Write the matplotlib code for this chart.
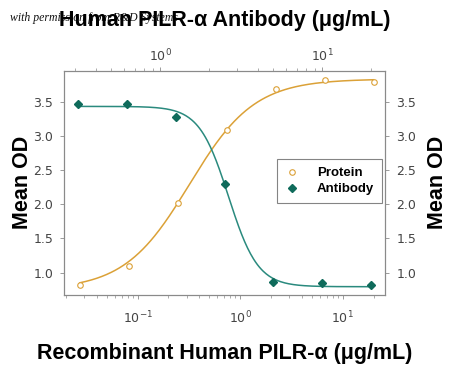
import numpy as np
import matplotlib
matplotlib.use("Agg")
import matplotlib.pyplot as plt
from matplotlib.ticker import LogLocator, NullFormatter
from matplotlib.lines import Line2D

# Data
protein_conc = [0.0274, 0.0823, 0.247, 0.741, 2.22, 6.67, 20.0]      # bottom axis, ug/mL
protein_od = [0.82, 1.10, 2.02, 3.08, 3.68, 3.81, 3.79]
antibody_conc = [0.3125, 0.625, 1.25, 2.5, 5.0, 10.0, 20.0]          # top axis, ug/mL
antibody_od = [3.46, 3.47, 3.27, 2.29, 0.87, 0.845, 0.825]

# 4PL fit parameters (bottom, top, EC50, slope)
protein_fit = (0.75, 3.83, 0.32, 1.37)
antibody_fit = (0.795, 3.43, 2.645, 4.8)

y_ticks = [1.0, 1.5, 2.0, 2.5, 3.0, 3.5]

def fourpl_inc(x, a, d, c, b):
    return a + (d - a) / (1.0 + (c / x) ** b)

def fourpl_dec(x, a, d, c, b):
    return a + (d - a) / (1.0 + (x / c) ** b)

c_prot = "#DBA137"
c_ab_line = "#2A8A7E"
c_ab_mark = "#0F6B5B"
tick_col = "#444444"
spine_col = "#8a8a8a"

fig = plt.figure(figsize=(4.5, 3.65), dpi=100)
ax = fig.add_axes([0.143, 0.192, 0.713, 0.614])
ax.set_xscale("log")
ax.set_xlim(0.0193, 26.0)
ax.set_ylim(0.675, 3.95)

xp = np.logspace(np.log10(protein_conc[0]), np.log10(protein_conc[-1]), 300)
ax.plot(xp, fourpl_inc(xp, *protein_fit), color=c_prot, lw=1.1, zorder=2)
ax.plot(protein_conc, protein_od, linestyle="none", marker="o", ms=4,
        mfc="white", mec=c_prot, mew=0.8, zorder=3)

ax2 = ax.twiny()
ax2.set_xscale("log")
ax2.set_xlim(0.2566, 24.5)
xa = np.logspace(np.log10(antibody_conc[0]), np.log10(antibody_conc[-1]), 300)
ax2.plot(xa, fourpl_dec(xa, *antibody_fit), color=c_ab_line, lw=1.1, zorder=2)
ax2.plot(antibody_conc, antibody_od, linestyle="none", marker="D", ms=4,
         color=c_ab_mark, zorder=3)

for a in (ax, ax2):
    for s in a.spines.values():
        s.set_color(spine_col)
        s.set_linewidth(0.8)
    a.xaxis.set_major_locator(LogLocator(base=10))
    a.xaxis.set_minor_locator(LogLocator(base=10, subs=np.arange(2, 10)))
    a.xaxis.set_minor_formatter(NullFormatter())

ax.set_yticks(y_ticks)
ax.set_yticklabels([f"{v:.1f}" for v in y_ticks])
ax.tick_params(axis="y", which="both", left=True, right=True, labelleft=True,
               labelright=True, direction="out", length=3, width=0.6,
               color=spine_col, labelsize=9, labelcolor=tick_col, pad=5)
ax.tick_params(axis="x", which="major", direction="out", length=3, width=0.6,
               color=spine_col, labelsize=9, labelcolor=tick_col, pad=8)
ax.tick_params(axis="x", which="minor", direction="out", length=2, width=0.5,
               color=spine_col)
ax2.tick_params(axis="x", which="major", direction="out", length=3, width=0.6,
                color=spine_col, labelsize=9, labelcolor=tick_col, pad=2)
ax2.tick_params(axis="x", which="minor", direction="out", length=2, width=0.5,
                color=spine_col)

lab_font = dict(family="Liberation Sans", fontweight="bold", fontsize=15.5)
ax.set_xlabel("Recombinant Human PILR-α (μg/mL)", labelpad=12, **lab_font)
fig.text(0.5, 0.945, "Human PILR-α Antibody (μg/mL)", ha="center", va="center",
         **lab_font)
fig.text(0.05, 0.5, "Mean OD", rotation=90, ha="center", va="center", **lab_font)
fig.text(0.972, 0.5, "Mean OD", rotation=90, ha="center", va="center", **lab_font)
fig.text(0.022, 0.952, "with permission from R&D Systems", ha="left", va="center",
         family="Liberation Serif", style="italic", fontsize=8.5, color="#111111",
         zorder=0)

handles = [
    Line2D([], [], linestyle="none", marker="o", ms=4, mfc="white", mec=c_prot, mew=0.8),
    Line2D([], [], linestyle="none", marker="D", ms=4, color=c_ab_mark),
]
leg = ax2.legend(handles, ["Protein", "Antibody"], loc="upper right",
                 bbox_to_anchor=(0.99, 0.606), borderaxespad=0, frameon=True,
                 fancybox=False, edgecolor="#666666", handlelength=1.0,
                 handletextpad=1.4, borderpad=0.6, labelspacing=0.3,
                 prop=dict(family="Liberation Sans", weight="bold", size=9.5))
leg.get_frame().set_linewidth(0.8)

fig.savefig("out.png", dpi=100)
